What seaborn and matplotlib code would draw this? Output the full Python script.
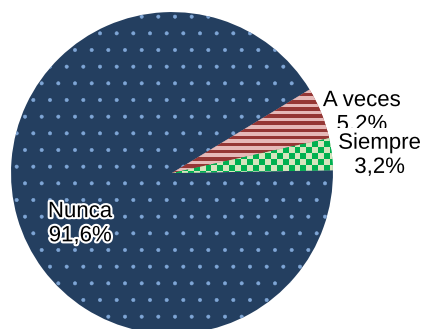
import numpy as np
import matplotlib
matplotlib.use("Agg")
import matplotlib.pyplot as plt
import matplotlib.patheffects as pe
import seaborn as sns

# Datos del gráfico
categorias = ['Siempre', 'A veces', 'Nunca']
porcentajes = [3.2, 5.2, 91.6]
etiquetas = ['Siempre\n3,2%', 'A veces\n5,2%', 'Nunca\n91,6%']

sns.set_theme(style="white")
plt.rcParams['font.family'] = ['Liberation Sans', 'DejaVu Sans']
plt.rcParams['hatch.linewidth'] = 0.4

fig = plt.figure(figsize=(4.27, 3.29), dpi=100)
ax = fig.add_axes([0, 0, 1, 1])

colores = ['#00B050', '#953735', '#243F60']
wedges, _ = ax.pie(porcentajes, colors=colores, startangle=1, counterclock=True,
                   radius=1, wedgeprops=dict(linewidth=0))

# Nunca: puntos claros sobre azul oscuro
wedges[2].set_hatch('.')
wedges[2].set_edgecolor('#7FA6D6')
wedges[2].set_linewidth(0)

# A veces: franjas horizontales
filas = 34
rayas = np.array([[i % 2] for i in range(filas)])
cmap_r = matplotlib.colors.ListedColormap(['#953735', '#E6B9B8'])
im = ax.imshow(rayas, extent=[-0.05, 1.05, -0.1, 0.65], cmap=cmap_r,
               aspect='auto', interpolation='nearest', origin='lower', zorder=3)
im.set_clip_path(wedges[1])

# Siempre: cuadros verdes
nx, ny = 30, 10
ii, jj = np.meshgrid(np.arange(nx), np.arange(ny))
cuadros = (ii + jj) % 2
cmap_g = matplotlib.colors.ListedColormap(['#00B050', '#D7E4BD'])
im2 = ax.imshow(cuadros, extent=[-0.05, 1.05, -0.1, 0.27], cmap=cmap_g,
                aspect='auto', interpolation='nearest', origin='lower', zorder=3)
im2.set_clip_path(wedges[0])

# Etiquetas
pos = [(1.29, 0.11), (1.18, 0.375), (-0.57, -0.315)]
orden = [6, 5, 5]
for etiqueta, (x, y), z in zip(etiquetas, pos, orden):
    caja = None
    if etiqueta.startswith('Siempre'):
        caja = dict(boxstyle='square,pad=0.2', fc='white', ec='none')
    ax.text(x, y, etiqueta, ha='center', va='center', fontsize=16,
            color='black', linespacing=1.2, zorder=z, bbox=caja,
            path_effects=[pe.withStroke(linewidth=3, foreground='white')])

ax.set_xlim(-1.068, 1.584)
ax.set_ylim(-0.969, 1.075)
ax.set_aspect('equal')
ax.axis('off')

fig.savefig('out.png', dpi=100)
